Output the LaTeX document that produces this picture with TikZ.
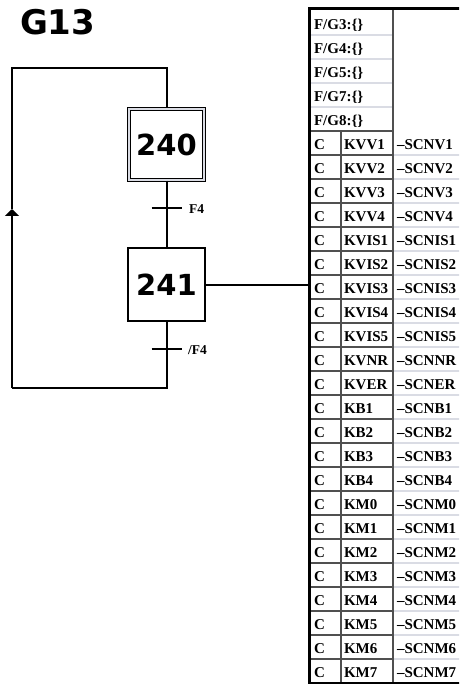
\documentclass[tikz,border=0pt]{standalone}
\usepackage{fontspec}
\setmainfont{Liberation Serif}
\newfontfamily\stepfont{DejaVu Sans}
\usetikzlibrary{arrows.meta}
\definecolor{gridlight}{RGB}{218,220,228}
\definecolor{griddark}{RGB}{80,80,80}
\begin{document}
\begin{tikzpicture}[x=1pt,y=-1pt,line width=2pt,
  stepbox/.style={draw,line width=1.8pt,minimum width=77pt,minimum height=73pt,inner sep=0pt,
    font=\stepfont\bfseries\fontsize{29}{29}\selectfont},
  initstep/.style={stepbox,line width=1.3pt,double=gridlight,double distance=1.5pt,
    minimum width=75pt,minimum height=71pt},
  cell/.style={anchor=west,inner sep=0pt,font=\bfseries\fontsize{15}{15}\selectfont},
  trlabel/.style={anchor=west,inner sep=0pt,font=\bfseries\fontsize{13.5}{13.5}\selectfont},
  bar/.style={line width=2.2pt},
  thinlight/.style={draw=gridlight,line width=1.2pt},
  thindark/.style={draw=griddark,line width=1.4pt},
  border/.style={line width=3pt}]
\useasboundingbox (0,0) rectangle (459,684);
\clip (0,0) rectangle (459,684);

% title
\node[anchor=west,inner sep=0pt,font=\stepfont\bfseries\fontsize{34}{34}\selectfont] (title) at (19,22) {G13};

% steps
\node[initstep] (s240) at (166.5,144.5) {240};
\node[stepbox] (s241) at (166.5,284.5) {241};

% transitions
\coordinate (t1) at (166.5,208);
\coordinate (t2) at (166.5,349);
\draw[bar] ([xshift=-15pt]t1) -- ([xshift=15pt]t1);
\draw[bar] ([xshift=-15pt]t2) -- ([xshift=15pt]t2);
\node[trlabel] (l1) at (188,209) {F4};
\node[trlabel] (l2) at (187,350) {/F4};

% links
\coordinate (lpbot) at (166.5,388);
\coordinate (lpbl) at (12,388);
\coordinate (lparr) at (12,209);
\coordinate (lptl) at (12,68);
\coordinate (lptop) at (166.5,68);
\draw (s240.south) -- (t1) -- (s241.north);
\draw (s241.south) -- (t2) -- (lpbot) -- (lpbl);
\draw[-{Triangle[width=14pt,length=7pt]}] (lpbl) -- (lparr);
\draw (lparr) -- (lptl) -- (lptop) -- (s240.north);

% table
\coordinate (tabin) at (309,284.5);
\draw (s241.east) -- (tabin);

\foreach \i in {0,...,3} \draw[thinlight] (309,35+24*\i) -- (393,35+24*\i);
\foreach \i in {4,...,26} \draw[thindark] (309,35+24*\i) -- (393,35+24*\i);
\foreach \i in {5,...,26} \draw[thinlight] (393,35+24*\i) -- (470,35+24*\i);
\draw[thindark] (341,131) -- (341,683);
\draw[thindark] (393,9) -- (393,683);
\draw[border] (470,9) -- (309,9) -- (309,683) -- (470,683);

\foreach \t [count=\i from 0] in {3,4,5,7,8}
  \node[cell] (fg\t) at (313,25+24*\i) {F/G\t:\{\}};

\foreach \k/\s [count=\i from 5] in {KVV1/SCNV1,KVV2/SCNV2,KVV3/SCNV3,KVV4/SCNV4,
   KVIS1/SCNIS1,KVIS2/SCNIS2,KVIS3/SCNIS3,KVIS4/SCNIS4,KVIS5/SCNIS5,
   KVNR/SCNNR,KVER/SCNER,KB1/SCNB1,KB2/SCNB2,KB3/SCNB3,KB4/SCNB4,
   KM0/SCNM0,KM1/SCNM1,KM2/SCNM2,KM3/SCNM3,KM4/SCNM4,KM5/SCNM5,KM6/SCNM6,KM7/SCNM7}{
  \node[cell] (c\i) at (313,25+24*\i) {C};
  \node[cell] (k\i) at (343,25+24*\i) {\k};
  \node[cell] (s\i) at (396,25+24*\i) {\textendash\s};
}
\end{tikzpicture}
\end{document}
